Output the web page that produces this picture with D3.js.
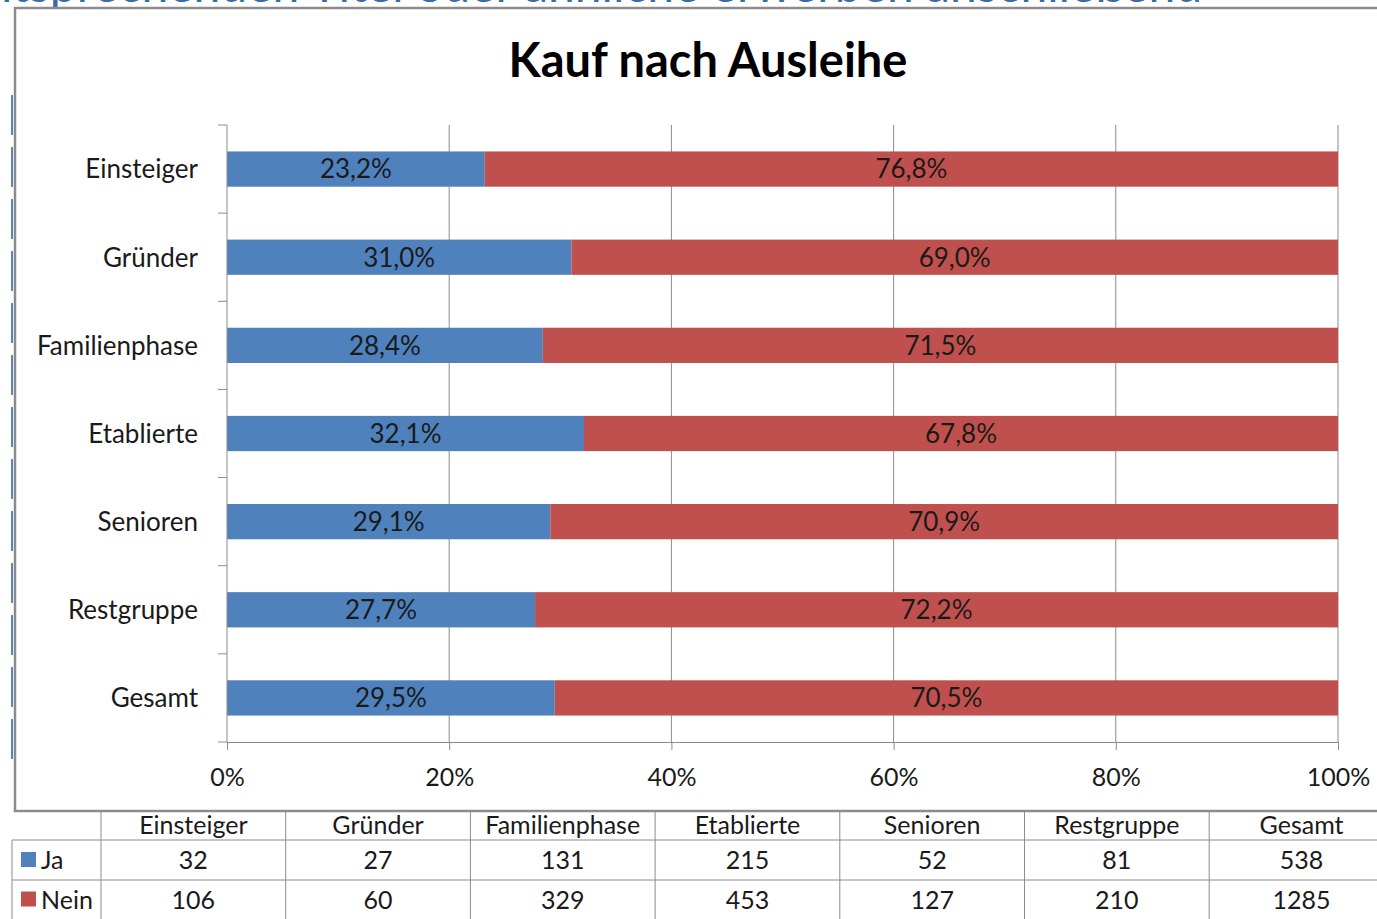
<!DOCTYPE html>
<html>
<head>
<meta charset="utf-8">
<script src="https://cdn.jsdelivr.net/npm/d3@7"></script>
<style>
  body { margin: 0; background: #fff; }
  svg text { font-family: Lato, "Open Sans", sans-serif; }
</style>
</head>
<body>
<div id="chart"></div>
<script>
// ---------- DATA ----------
var categories = ['Einsteiger', 'Gründer', 'Familienphase', 'Etablierte', 'Senioren', 'Restgruppe', 'Gesamt'];
var jaPct   = [23.2, 31.0, 28.4, 32.1, 29.1, 27.7, 29.5];
var neinPct = [76.8, 69.0, 71.5, 67.8, 70.9, 72.2, 70.5];
var jaCount   = [32, 27, 131, 215, 52, 81, 538];
var neinCount = [106, 60, 329, 453, 127, 210, 1285];
var xTicks = [0, 0.2, 0.4, 0.6, 0.8, 1];
var seriesNames = ['Ja', 'Nein'];
var colors = ['#4F81BD', '#C0504D'];

var W = 1377, H = 919;

var svg = d3.select('#chart').append('svg')
    .attr('width', W)
    .attr('height', H);

// cut-off slide heading behind the chart
svg.append('text')
    .attr('x', -40)
    .attr('y', 2)
    .attr('fill', '#3b6aa8')
    .style('font-size', '48px')
    .text('entsprechenden Titel oder ähnliche erwerben anschließend');

// slide edge on the left
svg.append('line')
    .attr('x1', 12).attr('x2', 12)
    .attr('y1', 95).attr('y2', 760)
    .attr('stroke', '#5b86bd')
    .attr('stroke-width', 2)
    .attr('stroke-dasharray', '40,12');

// chart frame
svg.append('rect')
    .attr('x', 15).attr('y', 8)
    .attr('width', W + 10).attr('height', 803)
    .attr('fill', '#fff')
    .attr('stroke', '#8c8c8c')
    .attr('stroke-width', 2.5);

svg.append('text')
    .attr('x', 708)
    .attr('y', 77)
    .attr('text-anchor', 'middle')
    .style('font-size', '47px')
    .style('font-weight', 'bold')
    .attr('fill', '#000')
    .text('Kauf nach Ausleihe');

// ---------- SCALES ----------
var x = d3.scaleLinear().domain([0, 1]).range([227, 1338]);
var y = d3.scaleBand().domain(categories).range([125, 742])
    .paddingInner(0.6).paddingOuter(0.3);

var rows = categories.map(function(c, i){
    return {cat: c, Ja: jaPct[i], Nein: neinPct[i]};
});
var stack = d3.stack().keys(seriesNames).offset(d3.stackOffsetExpand);
var layers = stack(rows);

// gridlines
svg.append('g').selectAll('line')
    .data(xTicks.slice(1))
    .enter()
    .append('line')
        .attr('x1', function(d){ return x(d) })
        .attr('x2', function(d){ return x(d) })
        .attr('y1', 125)
        .attr('y2', 742)
        .attr('stroke', '#8c8c8c')
        .attr('stroke-width', 1);

// bars
var fmt = d3.format('.1f');
layers.forEach(function(layer, li){
    var g = svg.append('g');
    g.selectAll('rect')
        .data(layer)
        .enter()
        .append('rect')
            .attr('x', function(d){ return x(d[0]) })
            .attr('y', function(d){ return y(d.data.cat) })
            .attr('width', function(d){ return x(d[1]) - x(d[0]) })
            .attr('height', y.bandwidth())
            .attr('fill', colors[li]);
    g.selectAll('text')
        .data(layer)
        .enter()
        .append('text')
            .attr('x', function(d){ return (x(d[0]) + x(d[1])) / 2 })
            .attr('y', function(d){ return y(d.data.cat) + y.bandwidth() / 2 })
            .attr('dy', '0.36em')
            .attr('text-anchor', 'middle')
            .style('font-size', '26px')
            .attr('fill', '#1a1a1a')
            .text(function(d){ return fmt(d.data[seriesNames[li]]).replace('.', ',') + '%' });
});

// x axis
var xAxis = svg.append('g')
    .attr('transform', 'translate(0,742)')
    .call(d3.axisBottom(x).tickValues(xTicks).tickSize(8).tickPadding(18)
        .tickFormat(function(d){ return Math.round(d * 100) + '%' }));
xAxis.select('.domain').attr('stroke', '#8c8c8c');
xAxis.selectAll('.tick line').attr('stroke', '#8c8c8c');
xAxis.selectAll('text').style('font-size', '25px').attr('fill', '#1a1a1a');

// y axis with ticks between categories
var step = y.step();
var bounds = categories.map(function(c){ return y(c) - step * 0.3 });
bounds.push(742);
var yAxis = svg.append('g');
yAxis.append('line')
    .attr('x1', 227).attr('x2', 227)
    .attr('y1', 125).attr('y2', 742)
    .attr('stroke', '#8c8c8c');
yAxis.selectAll('line.tk')
    .data(bounds)
    .enter()
    .append('line')
        .attr('class', 'tk')
        .attr('x1', 218).attr('x2', 227)
        .attr('y1', function(d){ return d })
        .attr('y2', function(d){ return d })
        .attr('stroke', '#8c8c8c');
yAxis.selectAll('text')
    .data(categories)
    .enter()
    .append('text')
        .attr('x', 198)
        .attr('y', function(d){ return y(d) + y.bandwidth() / 2 })
        .attr('dy', '0.36em')
        .attr('text-anchor', 'end')
        .style('font-size', '26px')
        .attr('fill', '#1a1a1a')
        .text(function(d){ return d });

// ---------- DATA TABLE ----------
var colX = d3.scaleBand().domain(categories).range([101, 101 + 184.7 * 7]);
var rowY = [812, 840, 880, 919];
var tbl = svg.append('g');

// column separators
tbl.selectAll('line.col')
    .data(categories)
    .enter()
    .append('line')
        .attr('class', 'col')
        .attr('x1', function(d){ return colX(d) })
        .attr('x2', function(d){ return colX(d) })
        .attr('y1', 812).attr('y2', H)
        .attr('stroke', '#8c8c8c');
tbl.append('line')
    .attr('x1', 12).attr('x2', 12)
    .attr('y1', 840).attr('y2', H)
    .attr('stroke', '#8c8c8c');
// row separators
tbl.selectAll('line.row')
    .data([840, 880])
    .enter()
    .append('line')
        .attr('class', 'row')
        .attr('x1', 12).attr('x2', W)
        .attr('y1', function(d){ return d })
        .attr('y2', function(d){ return d })
        .attr('stroke', '#8c8c8c');

tbl.selectAll('text.hd')
    .data(categories)
    .enter()
    .append('text')
        .attr('class', 'hd')
        .attr('x', function(d){ return colX(d) + colX.bandwidth() / 2 })
        .attr('y', 825)
        .attr('dy', '0.36em')
        .attr('text-anchor', 'middle')
        .style('font-size', '25px')
        .attr('fill', '#1a1a1a')
        .text(function(d){ return d });

var tableRows = [jaCount, neinCount];
tableRows.forEach(function(vals, ri){
    var cy = (rowY[ri + 1] + rowY[ri + 2]) / 2;
    tbl.append('rect')
        .attr('x', 21).attr('y', cy - 8)
        .attr('width', 15).attr('height', 15)
        .attr('fill', colors[ri]);
    tbl.append('text')
        .attr('x', 41).attr('y', cy)
        .attr('dy', '0.36em')
        .style('font-size', '25px')
        .attr('fill', '#1a1a1a')
        .text(seriesNames[ri]);
    tbl.selectAll('text.v' + ri)
        .data(vals)
        .enter()
        .append('text')
            .attr('class', 'v' + ri)
            .attr('x', function(d, i){ return colX(categories[i]) + colX.bandwidth() / 2 })
            .attr('y', cy)
            .attr('dy', '0.36em')
            .attr('text-anchor', 'middle')
            .style('font-size', '25px')
            .attr('fill', '#1a1a1a')
            .text(function(d){ return d });
});
</script>
</body>
</html>
